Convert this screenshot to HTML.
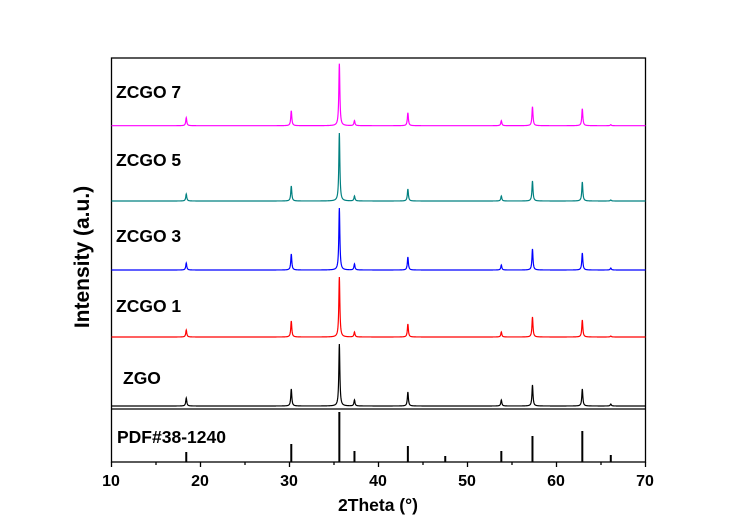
<!DOCTYPE html>
<html><head><meta charset="utf-8"><style>
body{margin:0;background:#fff;}
svg{display:block;font-family:"Liberation Sans",Arial,sans-serif;font-weight:bold;}
</style></head><body>
<svg id="s" width="748" height="528" viewBox="0 0 748 528" xmlns="http://www.w3.org/2000/svg">
<rect x="111.5" y="58" width="534" height="404" fill="none" stroke="#000" stroke-width="1.3"/>
<line x1="111.5" y1="409" x2="645.5" y2="409" stroke="#000" stroke-width="1.3"/>
<g id="ticks" stroke="#000" stroke-width="1.3"></g>
<g id="series" fill="none" stroke-width="1.2"></g>
<g font-size="16" fill="#000">
<text x="111" y="486" text-anchor="middle">10</text>
<text x="200" y="486" text-anchor="middle">20</text>
<text x="289" y="486" text-anchor="middle">30</text>
<text x="378" y="486" text-anchor="middle">40</text>
<text x="467" y="486" text-anchor="middle">50</text>
<text x="556" y="486" text-anchor="middle">60</text>
<text x="645" y="486" text-anchor="middle">70</text>
</g>
<g font-size="17.5" fill="#000">
<text x="116" y="98">ZCGO 7</text>
<text x="116" y="166">ZCGO 5</text>
<text x="116" y="242">ZCGO 3</text>
<text x="116" y="312">ZCGO 1</text>
<text x="123" y="384">ZGO</text>
<text x="117" y="443">PDF#38-1240</text>
</g>
<text x="378" y="511" font-size="17.5" text-anchor="middle">2Theta (°)</text>
<text transform="translate(89,257) rotate(-90)" font-size="21" text-anchor="middle">Intensity (a.u.)</text>
</svg>
<script>
var X=function(d){return 111.5+(d-10)*8.9;};
var t=document.getElementById('ticks'),h='';
for(var d=10;d<=70;d+=5){var big=d%10==0;h+='<line x1="'+X(d)+'" y1="462" x2="'+X(d)+'" y2="'+(462+(big?5:3))+'"/>';}
t.innerHTML=h;
var pk=[18.4,30.2,35.6,37.3,43.3,47.5,53.8,57.3,62.9,66.1];
var S=[
 {c:'#ff00ff',b:125.7,h:[8,15,62,5,13,0,5,19,17,1]},
 {c:'#008080',b:201,h:[7,15,68,5,12,0,5,20,19,1]},
 {c:'#0000ff',b:270,h:[7,16,62,6,13,0,5,21,17,2]},
 {c:'#ff0000',b:337,h:[7,16,60,5,13,0,5,20,17,1]},
 {c:'#000000',b:406,h:[8,17,62,6,14,0,6,21,17,2]}];
var g='',w=0.07;
S.forEach(function(s){var p='';
 for(var d=10;d<=70.001;d+=0.02){var y=s.b;for(var i=0;i<pk.length;i++){var u=(d-pk[i])/w;y-=s.h[i]/(1+u*u);}
  p+=(p?'L':'M')+X(d).toFixed(2)+','+y.toFixed(2);}
 g+='<path d="'+p+'" stroke="'+s.c+'"/>';});
var bars=[452,444,412,451,446,456,451,436,431,455];
pk.forEach(function(d,i){g+='<line x1="'+X(d)+'" y1="462" x2="'+X(d)+'" y2="'+bars[i]+'" stroke="#000" stroke-width="2"/>';});
document.getElementById('series').innerHTML=g;
</script>
</body></html>
